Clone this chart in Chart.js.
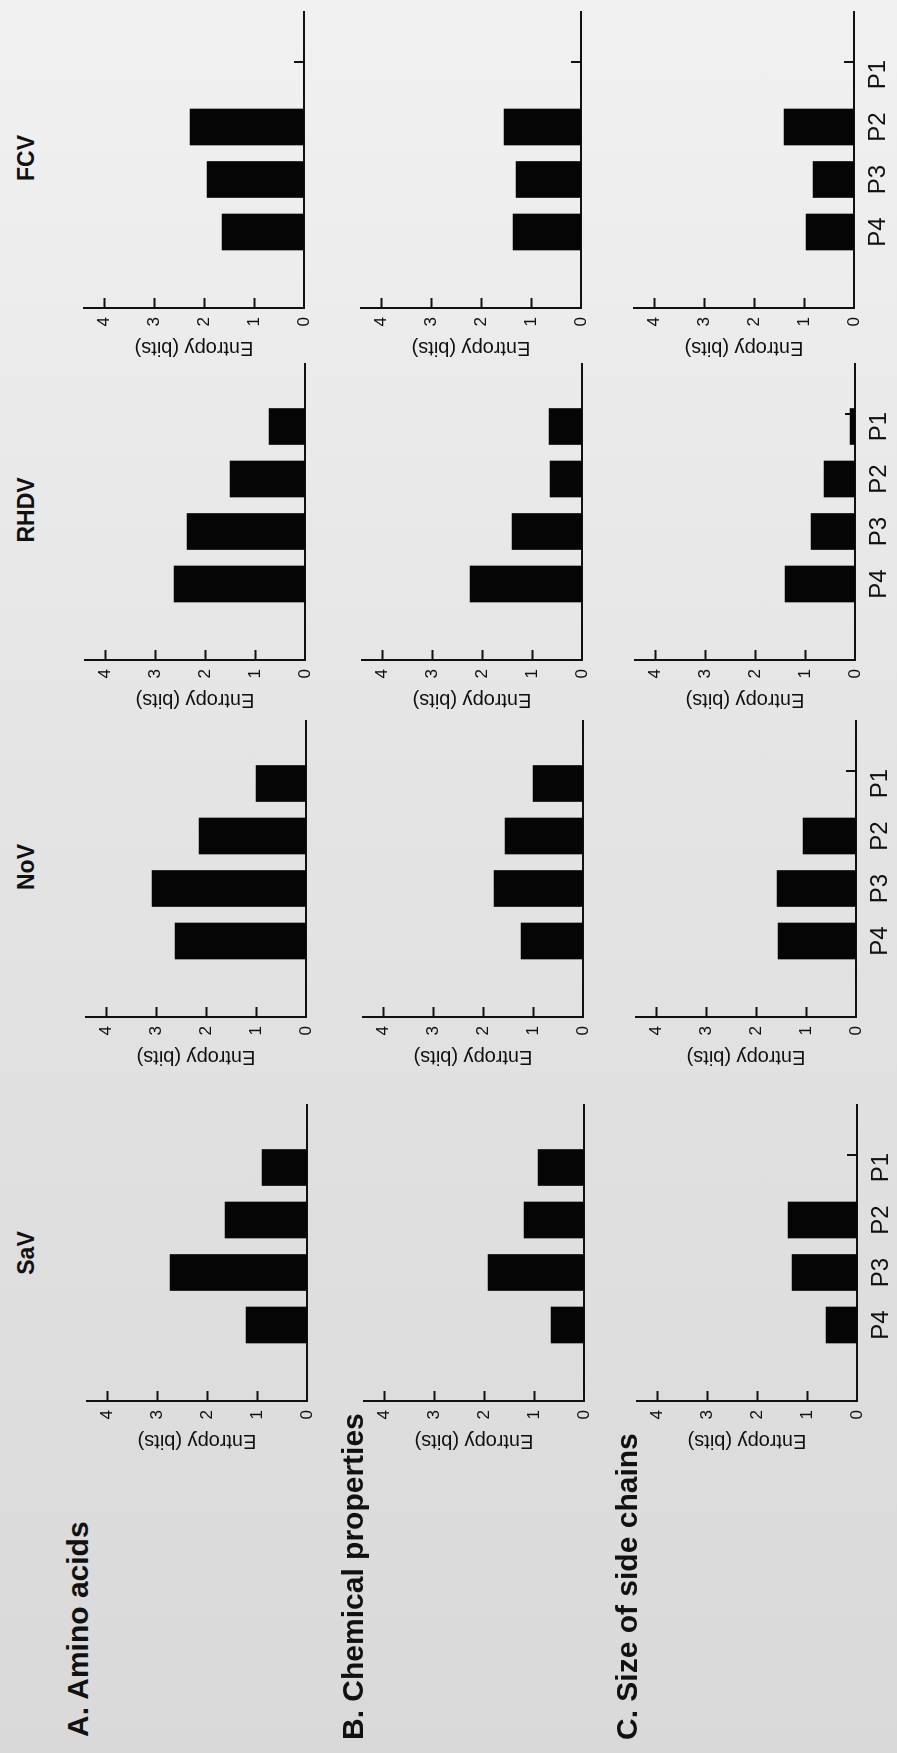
<!DOCTYPE html>
<html>
<head>
<meta charset="utf-8">
<script src="https://cdn.jsdelivr.net/npm/chart.js@4.4.1/dist/chart.umd.min.js"></script>
<style>
  html, body { margin: 0; padding: 0; }
  body {
    width: 897px; height: 1753px; overflow: hidden; position: relative;
    background: linear-gradient(to top, #d9d9d9, #e4e4e4 55%, #f1f1f1);
    font-family: "Liberation Sans", Arial, sans-serif;
  }
  /* the figure is laid out landscape and turned a quarter left */
  #figure {
    position: absolute; left: 0; top: 0; width: 1753px; height: 897px;
    transform-origin: 0 0; transform: translate(0, 1753px) rotate(-90deg);
  }
  #figure canvas { position: absolute; }
  .col-title {
    position: absolute; width: 200px; text-align: center; white-space: nowrap;
    font-weight: bold; font-size: 23px; line-height: 23px; color: #111;
  }
  .row-title {
    position: absolute; white-space: nowrap;
    font-weight: bold; font-size: 30px; line-height: 30px; color: #111;
  }
</style>
</head>
<body>
<div id="figure"></div>
<script>
// categories and labels
const positions = ['P4', 'P3', 'P2', 'P1'];
const viruses = ['SaV', 'NoV', 'RHDV', 'FCV'];
const panels = ['A. Amino acids', 'B. Chemical properties', 'C. Size of side chains'];
const entropyTicks = [0, 1, 2, 3, 4];

// entropy (bits) per position
const aminoSaV  = [1.22, 2.74, 1.64, 0.90];
const aminoNoV  = [2.62, 3.08, 2.14, 1.00];
const aminoRHDV = [2.62, 2.36, 1.50, 0.72];
const aminoFCV  = [1.64, 1.94, 2.28, 0];

const chemSaV  = [0.66, 1.92, 1.20, 0.92];
const chemNoV  = [1.24, 1.78, 1.56, 1.00];
const chemRHDV = [2.24, 1.40, 0.64, 0.66];
const chemFCV  = [1.36, 1.30, 1.54, 0];

const sizeSaV  = [0.62, 1.30, 1.38, 0];
const sizeNoV  = [1.56, 1.58, 1.06, 0];
const sizeRHDV = [1.40, 0.88, 0.62, 0.10];
const sizeFCV  = [0.96, 0.82, 1.40, 0];

const rows = [
  [aminoSaV, aminoNoV, aminoRHDV, aminoFCV],
  [chemSaV, chemNoV, chemRHDV, chemFCV],
  [sizeSaV, sizeNoV, sizeRHDV, sizeFCV]
];

// layout (landscape coordinates, before the turn)
const colAxisX = [352, 736, 1093, 1445];
const colTitleX = [500, 886, 1243, 1595];
const colSkew = [0, 1, 2, 3];
const rowZeroY = [307, 584, 857];
const rowTitlePos = [[16, 63], [13, 338], [13, 612]];

const AXIS_W = 60, PAD_TOP = 22, PAD_RIGHT = 10, PLOT_W = 296, PLOT_H = 220, X_AXIS_H = 60;
const W = AXIS_W + PLOT_W + PAD_RIGHT;
const H = PAD_TOP + PLOT_H + X_AXIS_H;
const X_MIN = 1 - 52 / 70;
const X_MAX = X_MIN + PLOT_W / 70;
const INK = '#111';
const FONT = '"Liberation Sans", Arial, sans-serif';

const fig = document.getElementById('figure');

// short tick marks that point into the plot
const inwardTicks = {
  id: 'inwardTicks',
  beforeDatasetsDraw(chart) {
    const { ctx, scales: { x, y } } = chart;
    ctx.save();
    ctx.strokeStyle = INK;
    ctx.lineWidth = 2;
    ctx.beginPath();
    entropyTicks.slice(1).forEach(v => {
      const py = Math.round(y.getPixelForValue(v)) + 0.5;
      ctx.moveTo(x.left, py);
      ctx.lineTo(x.left + 10, py);
    });
    positions.forEach((p, i) => {
      const px = Math.round(x.getPixelForValue(i + 1.23));
      ctx.moveTo(px, y.bottom);
      ctx.lineTo(px, y.bottom - 10);
    });
    ctx.stroke();
    ctx.restore();
  }
};

function makeChart(values, axisX, zeroY, showLabels) {
  const canvas = document.createElement('canvas');
  canvas.width = W;
  canvas.height = H;
  canvas.style.left = (axisX - AXIS_W) + 'px';
  canvas.style.top = (zeroY - PAD_TOP - PLOT_H) + 'px';
  fig.appendChild(canvas);

  new Chart(canvas, {
    type: 'bar',
    data: {
      datasets: [{
        data: values.map((v, i) => ({ x: i + 1, y: v })),
        backgroundColor: '#050505',
        borderWidth: 0,
        barThickness: 36
      }]
    },
    options: {
      responsive: false,
      animation: false,
      devicePixelRatio: 1,
      layout: { padding: { left: 0, right: PAD_RIGHT, top: PAD_TOP, bottom: 0 } },
      plugins: { legend: { display: false }, tooltip: { enabled: false } },
      scales: {
        x: {
          type: 'linear',
          min: X_MIN,
          max: X_MAX,
          grid: { display: false, drawTicks: false },
          border: { display: true, color: INK, width: 2 },
          afterBuildTicks: s => { s.ticks = positions.map((p, i) => ({ value: i + 1 })); },
          ticks: {
            display: showLabels,
            padding: 10,
            color: INK,
            font: { family: FONT, size: 24 },
            callback: v => positions[Math.round(v) - 1]
          },
          afterFit: s => { s.height = X_AXIS_H; }
        },
        y: {
          min: 0,
          max: 4.4,
          grid: { display: false, drawTicks: false },
          border: { display: true, color: INK, width: 2 },
          afterBuildTicks: s => { s.ticks = entropyTicks.map(v => ({ value: v })); },
          ticks: { padding: 9, color: INK, font: { family: FONT, size: 17 } },
          title: {
            display: true,
            text: 'Entropy (bits)',
            color: INK,
            font: { family: FONT, size: 20 },
            padding: { top: 8, bottom: 0 }
          },
          afterFit: s => { s.width = AXIS_W; }
        }
      }
    },
    plugins: [inwardTicks]
  });
}

rows.forEach((series, r) => {
  series.forEach((values, c) => {
    makeChart(values, colAxisX[c], rowZeroY[r] - colSkew[c], r === rows.length - 1);
  });
});

viruses.forEach((name, c) => {
  const d = document.createElement('div');
  d.className = 'col-title';
  d.textContent = name;
  d.style.left = (colTitleX[c] - 100) + 'px';
  d.style.top = '15px';
  fig.appendChild(d);
});

panels.forEach((name, r) => {
  const d = document.createElement('div');
  d.className = 'row-title';
  d.textContent = name;
  d.style.left = rowTitlePos[r][0] + 'px';
  d.style.top = rowTitlePos[r][1] + 'px';
  fig.appendChild(d);
});
</script>
</body>
</html>
